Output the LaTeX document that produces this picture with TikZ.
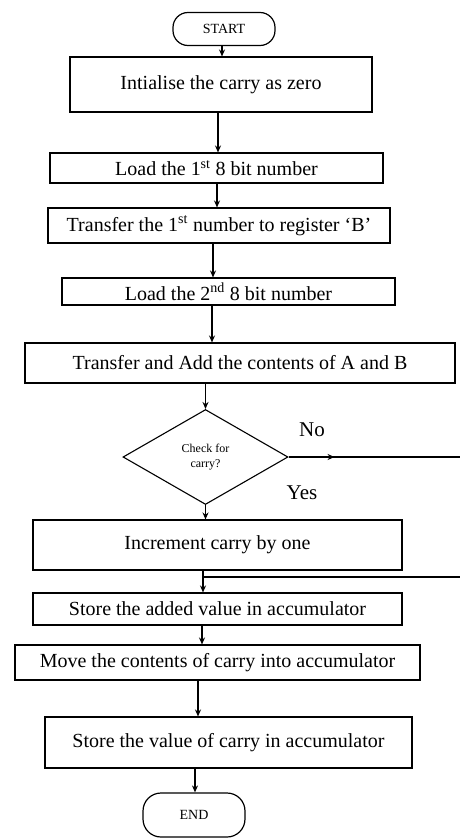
\documentclass[tikz,border=0pt]{standalone}
\usepackage{fontspec}
\setmainfont{Liberation Serif}
\usetikzlibrary{shapes.geometric,arrows.meta,decorations.markings}
\begin{document}
\begin{tikzpicture}[x=1pt,y=-1pt,
  box/.style={draw,line width=1.1pt,inner sep=0pt,font=\fontsize{20}{24}\selectfont},
  term/.style={draw,line width=1.2pt,rounded corners=15pt,inner sep=0pt,font=\fontsize{14}{16}\selectfont},
  decision/.style={draw,diamond,aspect=1.7,line width=1.1pt,inner sep=0pt,align=center,font=\fontsize{12}{15}\selectfont},
  lbl/.style={font=\fontsize{21}{24}\selectfont},
  arr/.style={-{Stealth[length=7pt,width=6pt]},line width=1.1pt},
  flow/.style={line width=1.1pt},
  midarr/.style={postaction={decorate},decoration={markings,mark=at position 46pt with {\arrow{Stealth[length=7pt,width=6pt]}}}}]
\useasboundingbox (0,0) rectangle (460,838);

\node[term,minimum width=102pt,minimum height=33pt] (start) at (224,29) {START};
\node[box,minimum width=302pt,minimum height=55pt] (b1) at (221,84.5) {Intialise the carry as zero};
\node[box,minimum width=333pt,minimum height=30pt] (b2) at (216.5,168) {Load the 1\textsuperscript{st} 8 bit number};
\node[box,minimum width=342pt,minimum height=35pt] (b3) at (219,225.5) {Transfer the 1\textsuperscript{st} number to register `B'};
\node[box,minimum width=333pt,minimum height=27pt] (b4) at (228.5,291.5) {Load the 2\textsuperscript{nd} 8 bit number};
\node[box,minimum width=430pt,minimum height=40pt] (b5) at (240,363) {Transfer and Add the contents of A and B};
\node[decision,minimum width=165pt,minimum height=95pt] (dia) at (205.5,457) {Check for\\carry?};
\node[box,minimum width=369pt,minimum height=50pt] (b6) at (217.5,545) {Increment carry by one};
\node[box,minimum width=369pt,minimum height=32pt] (b7) at (217.5,609) {Store the added value in accumulator};
\node[box,minimum width=405pt,minimum height=35pt] (b8) at (217.5,662.5) {Move the contents of carry into accumulator};
\node[box,minimum width=367pt,minimum height=51pt] (b9) at (228.5,742.5) {Store the value of carry in accumulator};
\node[term,minimum width=102pt,minimum height=44pt,rounded corners=18pt] (end) at (194,815) {END};

\node[lbl] (no) at (312,430) {No};
\node[lbl] (yes) at (302,493) {Yes};

\coordinate (xa) at (222,0);
\coordinate (xb) at (218,0);
\coordinate (xc) at (217,0);
\coordinate (xd) at (213,0);
\coordinate (xe) at (212,0);
\coordinate (xf) at (206,0);
\coordinate (xg) at (203,0);
\coordinate (xh) at (202,0);
\coordinate (xi) at (198,0);
\coordinate (xj) at (195,0);

\draw[arr] (start.south -| xa) -- (b1.north -| xa);
\draw[arr] (b1.south -| xb) -- (b2.north -| xb);
\draw[arr] (b2.south -| xc) -- (b3.north -| xc);
\draw[arr] (b3.south -| xd) -- (b4.north -| xd);
\draw[arr] (b4.south -| xe) -- (b5.north -| xe);
\draw[arr] (b5.south -| dia.north) -- (dia.north);
\draw[arr] (dia.south) -- (b6.north -| dia.south);
\draw[arr] (b6.south -| xg) -- (b7.north -| xg);
\draw[arr] (b7.south -| xh) -- (b8.north -| xh);
\draw[arr] (b8.south -| xi) -- (b9.north -| xi);
\draw[arr] (b9.south -| xj) -- (end.north -| xj);

\coordinate (noR) at (470,457);
\coordinate (noR2) at (470,577);
\coordinate (join) at (203,577);
\draw[flow,midarr] (dia.east) -- (noR);
\draw[flow] (noR) -- (noR2) -- (join);
\end{tikzpicture}
\end{document}
